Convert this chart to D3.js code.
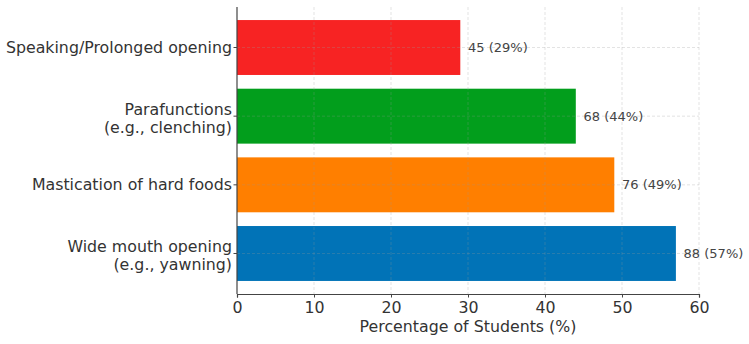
<!DOCTYPE html>
<html>
<head>
<meta charset="utf-8">
<script src="https://cdn.jsdelivr.net/npm/d3@7"></script>
<style>
  html, body { margin: 0; padding: 0; background: #fff; }
  svg { display: block; font-family: "DejaVu Sans", sans-serif; }
</style>
</head>
<body>
<svg id="chart" width="749" height="344"></svg>
<script>
// Data (bottom to top, as plotted)
const categories = [
  ["Wide mouth opening", "(e.g., yawning)"],
  ["Mastication of hard foods"],
  ["Parafunctions", "(e.g., clenching)"],
  ["Speaking/Prolonged opening"]
];
const counts = [88, 76, 68, 45];
const percents = [57, 49, 44, 29];
const colors = ["#0173b7", "#ff7f00", "#029e1c", "#f72323"];
const xTicks = [0, 10, 20, 30, 40, 50, 60];
const xTitle = "Percentage of Students (%)";

(function () {
const svg = d3.select("#chart");
const mLeft = 237, mRight = 699, mTop = 7, mBottom = 294;

const x = d3.scaleLinear().domain([0, 60]).range([mLeft, mRight]);
const y = d3.scaleLinear().domain([-0.59, 3.59]).range([mBottom, mTop]);
const barH = 0.8;

const idx = d3.range(categories.length);

// Bars
svg.append("g").selectAll("rect").data(idx).join("rect")
  .attr("x", x(0))
  .attr("y", i => y(i + barH / 2))
  .attr("width", i => x(percents[i]) - x(0))
  .attr("height", i => y(i - barH / 2) - y(i + barH / 2))
  .attr("fill", i => colors[i]);

// Grid (drawn above bars)
const grid = svg.append("g")
  .attr("stroke", "#9a9a9a")
  .attr("stroke-opacity", 0.35)
  .attr("stroke-width", 0.8)
  .attr("stroke-dasharray", "3,2");
grid.selectAll("line.v").data(xTicks.slice(1)).join("line")
  .attr("class", "v")
  .attr("x1", d => x(d)).attr("x2", d => x(d))
  .attr("y1", mTop).attr("y2", mBottom);
grid.selectAll("line.h").data(idx).join("line")
  .attr("class", "h")
  .attr("x1", mLeft).attr("x2", mRight)
  .attr("y1", i => y(i)).attr("y2", i => y(i));

// X axis
const xAxis = svg.append("g")
  .attr("transform", `translate(0,${mBottom})`)
  .call(d3.axisBottom(x).tickValues(xTicks).tickSize(3.5).tickPadding(4).tickFormat(d3.format("d")));
xAxis.select(".domain").attr("stroke", "#444").attr("stroke-width", 1.2);
xAxis.selectAll(".tick line").attr("stroke", "#444").attr("stroke-width", 1);
xAxis.selectAll(".tick text").attr("fill", "#333").attr("font-size", "15.8px")
  .attr("font-family", "DejaVu Sans");

// Y spine and ticks
svg.append("line")
  .attr("x1", mLeft).attr("x2", mLeft).attr("y1", mTop).attr("y2", mBottom)
  .attr("stroke", "#444").attr("stroke-width", 1.2);
svg.append("g").selectAll("line").data(idx).join("line")
  .attr("x1", mLeft - 3.5).attr("x2", mLeft)
  .attr("y1", i => y(i)).attr("y2", i => y(i))
  .attr("stroke", "#444").attr("stroke-width", 1);

// Y labels
const yl = svg.append("g").selectAll("text").data(idx).join("text")
  .attr("text-anchor", "end")
  .attr("fill", "#333")
  .attr("font-size", "15.8px");
yl.each(function(i) {
  const lines = categories[i];
  const t = d3.select(this);
  const cy = y(i);
  if (lines.length === 1) {
    t.append("tspan").attr("x", mLeft - 5).attr("y", cy + 5.6).text(lines[0]);
  } else {
    t.append("tspan").attr("x", mLeft - 5).attr("y", cy - 1.6).text(lines[0]);
    t.append("tspan").attr("x", mLeft - 5).attr("y", cy + 17).text(lines[1]);
  }
});

// Value labels
svg.append("g").selectAll("text").data(idx).join("text")
  .attr("x", i => x(percents[i] + 1))
  .attr("y", i => y(i) + 4.6)
  .attr("fill", "#444")
  .attr("font-size", "13px")
  .text(i => `${counts[i]} (${percents[i]}%)`);

// X title
svg.append("text")
  .attr("x", (mLeft + mRight) / 2)
  .attr("y", 331.5)
  .attr("text-anchor", "middle")
  .attr("fill", "#333")
  .attr("font-size", "15.8px")
  .text(xTitle);
})();
</script>
</body>
</html>
